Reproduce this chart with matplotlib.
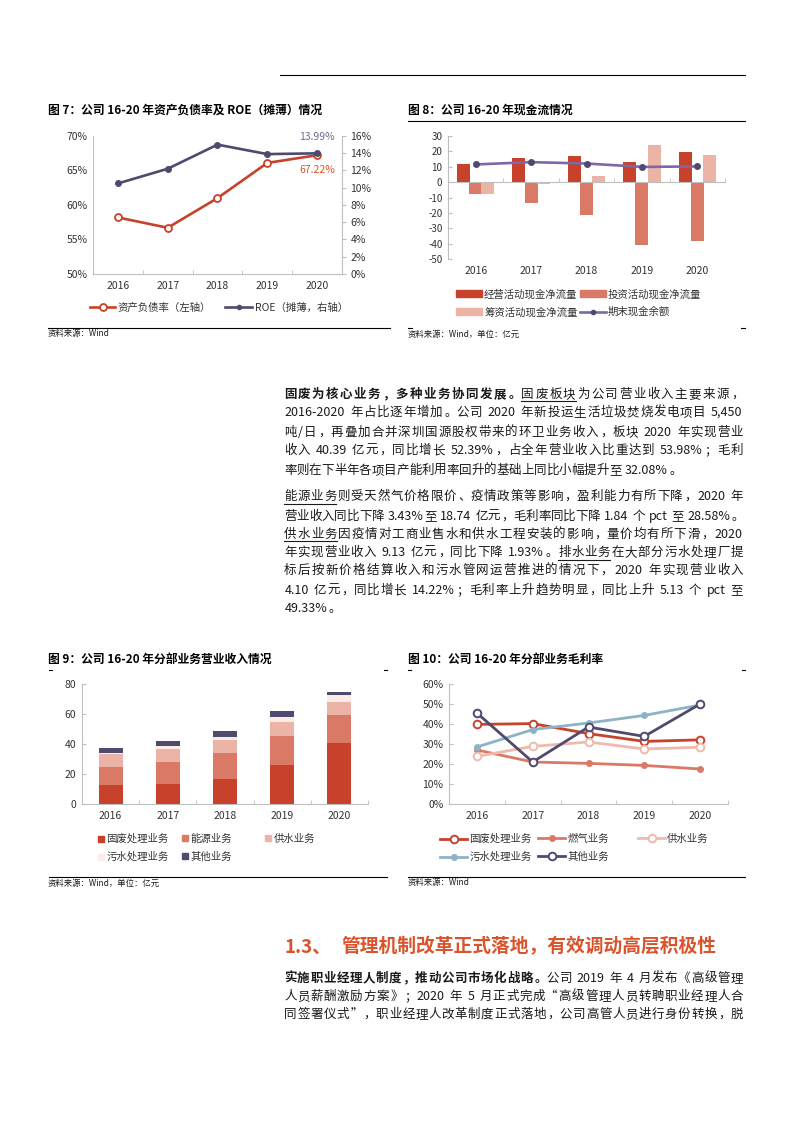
import re
import matplotlib
matplotlib.use('Agg')
import matplotlib.pyplot as plt
from matplotlib.lines import Line2D
from matplotlib.patches import Patch
import numpy as np

plt.rcParams['font.family'] = ['Noto Sans CJK SC', 'DejaVu Sans']
plt.rcParams['axes.unicode_minus'] = False

W, H = 793, 1122
years = ['2016', '2017', '2018', '2019', '2020']

# 图7 资产负债率(左轴, %) / ROE 摊薄(右轴, %)
debt_ratio = [58.2, 56.7, 61.0, 66.1, 67.22]
roe = [10.5, 12.2, 15.0, 13.9, 13.99]

# 图8 现金流 (亿元)
cf_oper = [11.9, 15.4, 16.9, 13.4, 19.7]
cf_inv = [-7.6, -13.8, -21.4, -40.6, -38.0]
cf_fin = [-7.8, -1.5, 3.7, 24.2, 17.9]
cash_end = [11.5, 13.0, 12.1, 9.9, 10.2]

# 图9 分部业务营业收入 (亿元)
rev_solid = [12.4, 13.3, 16.7, 26.0, 40.39]
rev_energy = [12.0, 14.5, 17.5, 19.6, 18.74]
rev_water = [8.7, 8.6, 8.7, 9.1, 9.13]
rev_sewage = [1.1, 2.0, 2.0, 3.3, 4.10]
rev_other = [3.1, 3.8, 4.0, 4.2, 2.5]

# 图10 分部业务毛利率 (%)
gm_solid = [39.8, 40.2, 35.2, 31.3, 32.08]
gm_gas = [27.0, 21.0, 20.3, 19.3, 17.5]
gm_water = [23.8, 28.8, 31.0, 27.5, 28.4]
gm_sewage = [28.5, 37.2, 40.5, 44.3, 49.5]
gm_other = [45.5, 21.0, 38.5, 33.8, 50.0]

RED = '#C8412A'
SALMON = '#DA7A66'
PINK = '#EBB4A7'
PALE = '#FBECE8'
NAVY = '#4F4A6E'
PURPLE = '#7F67A6'
BLUE = '#8DB3C7'
LPINK = '#F0B9AE'
GRID = '#BFBFBF'
TXT = '#333333'
BODY = '#1A1A1A'
HEAD = '#D9542C'

fig = plt.figure(figsize=(W / 100, H / 100), dpi=100)
renderer = fig.canvas.get_renderer()


def fx(x):
    return x / W


def fy(y):
    return 1 - y / H


def box(l, t, r, b):
    return [l / W, 1 - b / H, (r - l) / W, (b - t) / H]


def hline(x0, x1, y, lw=0.8, color='black'):
    fig.add_artist(Line2D([fx(x0), fx(x1)], [fy(y), fy(y)], color=color, lw=lw))


def style(ax, ysize=7.5):
    for s in ['top', 'right']:
        ax.spines[s].set_visible(False)
    ax.spines['left'].set_color(GRID)
    ax.spines['bottom'].set_color(GRID)
    ax.set_xlim(-0.5, 4.5)
    ax.set_xticks(range(5))
    ax.set_xticklabels(years)
    ax.set_xticks(np.arange(-0.5, 5), minor=True)
    ax.tick_params(axis='x', which='major', length=0, labelsize=7.5, labelcolor=TXT, pad=5)
    ax.tick_params(axis='x', which='minor', length=3, color=GRID, direction='in')
    ax.tick_params(axis='y', length=3, color=GRID, direction='in', labelsize=ysize, labelcolor=TXT, pad=4)
    ax.set_facecolor('none')


def legend_item(handle, label, x, y, hl=2.5, pad=0.25):
    fig.legend(handles=[handle], labels=[label], loc='center left',
               bbox_to_anchor=(fx(x), fy(y)), frameon=False, fontsize=7.5,
               handlelength=hl, handletextpad=pad, borderpad=0, borderaxespad=0,
               labelcolor=TXT)


def title(x, y, s):
    fig.text(fx(x), fy(y), s, fontsize=8.5, weight='bold', va='center', ha='left', color='black')


def source(x, y, s):
    fig.text(fx(x), fy(y), s, fontsize=6, va='center', ha='left', color=BODY)


# ---------------- header line ----------------
hline(280, 745, 75)

# ---------------- 图7 ----------------
title(48, 110, '图 7：公司 16-20 年资产负债率及 ROE（摊薄）情况')
ax7 = fig.add_axes(box(93, 136, 342, 274))
style(ax7)
ax7.tick_params(axis='y', length=0)
ax7.set_ylim(50, 70)
ax7.set_yticks(range(50, 71, 5))
ax7.set_yticklabels([f'{v}%' for v in range(50, 71, 5)])
ax7.plot(range(5), debt_ratio, color=RED, lw=1.9, marker='o', ms=5,
         mfc='white', mec=RED, mew=1.3, zorder=3)
ax7b = ax7.twinx()
ax7b.set_xlim(-0.5, 4.5)
for s in ['top', 'left', 'bottom']:
    ax7b.spines[s].set_visible(False)
ax7b.spines['right'].set_color(GRID)
ax7b.set_ylim(0, 16)
ax7b.set_yticks(range(0, 17, 2))
ax7b.set_yticklabels([f'{v}%' for v in range(0, 17, 2)])
ax7b.tick_params(axis='y', length=3, color=GRID, direction='out', labelsize=7.5, labelcolor=TXT, pad=3)
ax7b.plot(range(5), roe, color=NAVY, lw=1.9, marker='o', ms=4, mfc=NAVY, mec=NAVY, zorder=2)
ax7b.annotate(f'{roe[-1]:.2f}%', (4, roe[-1]), xytext=(13, 11.5), textcoords='offset points',
              ha='right', va='center', fontsize=7.5, color='#6E6892')
ax7b.annotate(f'{debt_ratio[-1]:.2f}%', (4, roe[-1]), xytext=(13, -12), textcoords='offset points',
              ha='right', va='center', fontsize=7.5, color=HEAD)
legend_item(Line2D([], [], color=RED, lw=1.9, marker='o', ms=5, mfc='white', mec=RED, mew=1.3),
            '资产负债率（左轴）', 90, 308, hl=2.4)
legend_item(Line2D([], [], color=NAVY, lw=1.9, marker='o', ms=3, mfc=NAVY, mec=NAVY),
            'ROE（摊薄，右轴）', 225, 308, hl=2.6)
hline(48, 390, 328)
source(48, 334, '资料来源：Wind')

# ---------------- 图8 ----------------
title(408, 110, '图 8：公司 16-20 年现金流情况')
hline(408, 745, 121)
ax8 = fig.add_axes(box(448, 136, 725, 259))
style(ax8, ysize=7)
ax8.spines['bottom'].set_position(('data', 0))
ax8.tick_params(axis='x', which='major', labelbottom=False)
sec = ax8.secondary_xaxis('bottom')
sec.set_xticks(range(5))
sec.set_xticklabels(years)
sec.spines['bottom'].set_visible(False)
sec.tick_params(axis='x', length=0, labelsize=7.5, labelcolor=TXT, pad=5)
ax8.set_ylim(-50, 30)
ax8.set_yticks(range(-50, 31, 10))
ax8.set_yticklabels([str(v) for v in range(-50, 31, 10)])
xs = np.arange(5)
bw = 0.235
ax8.bar(xs - 0.22, cf_oper, bw, color=RED, zorder=2)
ax8.bar(xs, cf_inv, bw, color=SALMON, zorder=2)
ax8.bar(xs + 0.22, cf_fin, bw, color=PINK, zorder=2)
ax8.plot(xs, cash_end, color=PURPLE, lw=1.9, marker='o', ms=4, mfc=NAVY, mec=NAVY, zorder=4)
legend_item(Patch(color=RED), '经营活动现金净流量', 456, 294, hl=2.5, pad=0.2)
legend_item(Patch(color=SALMON), '投资活动现金净流量', 580, 294, hl=2.5, pad=0.2)
legend_item(Patch(color=PINK), '筹资活动现金净流量', 456, 312, hl=2.5, pad=0.2)
legend_item(Line2D([], [], color=PURPLE, lw=1.9, marker='o', ms=3, mfc=NAVY, mec=NAVY),
            '期末现金余额', 580, 312, hl=2.5, pad=0.2)
hline(408, 412, 328)
hline(741, 745, 328)
source(408, 334, '资料来源：Wind，单位：亿元')

# ---------------- 图9 ----------------
title(48, 659, '图 9：公司 16-20 年分部业务营业收入情况')
hline(49, 52, 670)
hline(384, 387, 670)
ax9 = fig.add_axes(box(82, 684, 368, 804))
style(ax9)
ax9.set_ylim(0, 80)
ax9.set_yticks(range(0, 81, 20))
series9 = [(rev_solid, RED, '固废处理业务'), (rev_energy, SALMON, '能源业务'),
           (rev_water, PINK, '供水业务'), (rev_sewage, PALE, '污水处理业务'),
           (rev_other, NAVY, '其他业务')]
bottom = np.zeros(5)
for vals, col, lab in series9:
    ax9.bar(xs, vals, 0.42, bottom=bottom, color=col, zorder=2)
    bottom += np.array(vals)
pos9 = [(98, 839), (182, 839), (265, 839), (98, 857), (182, 857)]
for (vals, col, lab), (lx, ly) in zip(series9, pos9):
    legend_item(Line2D([], [], ls='none', marker='s', ms=4.5, mfc=col, mec=col), lab, lx, ly, hl=0.6, pad=0.2)
hline(49, 387, 877)
source(48, 883, '资料来源：Wind，单位：亿元')

# ---------------- 图10 ----------------
title(408, 659, '图 10：公司 16-20 年分部业务毛利率')
hline(408, 411, 670)
hline(742, 745, 670)
ax10 = fig.add_axes(box(449, 684, 728, 804))
style(ax10)
ax10.set_ylim(0, 60)
ax10.set_yticks(range(0, 61, 10))
ax10.set_yticklabels([f'{v}%' for v in range(0, 61, 10)])
series10 = [(gm_solid, RED, '固废处理业务', True), (gm_gas, SALMON, '燃气业务', False),
            (gm_water, LPINK, '供水业务', True), (gm_sewage, BLUE, '污水处理业务', False),
            (gm_other, NAVY, '其他业务', True)]
pos10 = [(440, 839), (538, 839), (638, 839), (440, 857), (538, 857)]
for (vals, col, lab, hollow), (lx, ly) in zip(series10, pos10):
    if hollow:
        kw = dict(marker='o', ms=5.5, mfc='white', mec=col, mew=1.4)
    else:
        kw = dict(marker='o', ms=4, mfc=col, mec=col)
    ax10.plot(xs, vals, color=col, lw=2, zorder=3, clip_on=False, **kw)
    legend_item(Line2D([], [], color=col, lw=2, **kw), lab, lx, ly, hl=2.6, pad=0.2)
hline(408, 745, 877)
source(408, 883, '资料来源：Wind')

# ---------------- body text ----------------
PUNCT_L = set('，。；：、）》”')
PUNCT_R = set('（《“')
LATIN = re.compile(r'[A-Za-z0-9.,%/\-]')


def tokens_of(s):
    out = []
    bold = ul = False
    for ch in s:
        if ch == '{':
            bold = True
            continue
        if ch == '}':
            bold = False
            continue
        if ch == '[':
            ul = True
            continue
        if ch == ']':
            ul = False
            continue
        if LATIN.match(ch):
            if out and out[-1][2] == 'latin' and out[-1][1] == bold and out[-1][3] == ul:
                out[-1][0] += ch
            else:
                out.append([ch, bold, 'latin', ul])
        elif ch == ' ':
            out.append([ch, bold, 'space', ul])
        else:
            out.append([ch, bold, 'wide', ul])
    return out


def text_line(s, y, x0=284, x1=743, justify=True, size=9, color=BODY):
    em = size * 100 / 72
    items = []
    for txt, bold, kind, ul in tokens_of(s):
        t = None
        if kind == 'space':
            w = 0.25 * em
        else:
            t = fig.text(0, 0, txt, fontsize=size, weight='bold' if bold else 'normal',
                         color=color, va='baseline', ha='left')
            if kind == 'wide':
                w = em
            else:
                w = t.get_window_extent(renderer).width + 0.08 * em
        items.append((t, txt, kind, w, ul))
    total = sum(i[3] for i in items)
    gap = (x1 - x0 - total) / (len(items) - 1) if justify and len(items) > 1 else 0
    base = round(y + 0.36 * em)
    x = x0
    runs = []
    prev_ul = False
    for t, txt, kind, w, ul in items:
        if t is not None:
            if kind == 'wide':
                if txt in PUNCT_L:
                    px = x + 0.08 * em
                elif txt in PUNCT_R:
                    t.set_ha('right')
                    px = x + w - 0.08 * em
                else:
                    t.set_ha('center')
                    px = x + w / 2
            else:
                px = x + 0.04 * em
            t.set_position((fx(px), fy(base)))
        if ul:
            if prev_ul:
                runs[-1][1] = x + w
            else:
                runs.append([x, x + w])
        prev_ul = ul
        x += w + gap
    for a, b in runs:
        hline(a, b, y + 8, lw=0.8, color=BODY)


para1 = [
    '{固废为核心业务，多种业务协同发展。}[固废板块]为公司营业收入主要来源，',
    '2016-2020 年占比逐年增加。公司 2020 年新投运生活垃圾焚烧发电项目 5,450',
    '吨/日，再叠加合并深圳国源股权带来的环卫业务收入，板块 2020 年实现营业',
    '收入 40.39 亿元，同比增长 52.39%，占全年营业收入比重达到 53.98%；毛利',
    '率则在下半年各项目产能利用率回升的基础上同比小幅提升至 32.08%。',
]
para1_y = [393, 412, 431, 450, 469]

para2 = [
    '[能源业务]则受天然气价格限价、疫情政策等影响，盈利能力有所下降，2020 年',
    '营业收入同比下降 3.43%至 18.74 亿元，毛利率同比下降 1.84 个 pct 至 28.58%。',
    '[供水业务]因疫情对工商业售水和供水工程安装的影响，量价均有所下滑，2020',
    '年实现营业收入 9.13 亿元，同比下降 1.93%。[排水业务]在大部分污水处理厂提',
    '标后按新价格结算收入和污水管网运营推进的情况下，2020 年实现营业收入',
    '4.10 亿元，同比增长 14.22%；毛利率上升趋势明显，同比上升 5.13 个 pct 至',
    '49.33%。',
]
para2_y = [496, 515, 533, 552, 570, 589, 607]

para3 = [
    '{实施职业经理人制度，推动公司市场化战略。}公司 2019 年 4 月发布《高级管理',
    '人员薪酬激励方案》；2020 年 5 月正式完成“高级管理人员转聘职业经理人合',
    '同签署仪式”，职业经理人改革制度正式落地，公司高管人员进行身份转换，脱',
]
para3_y = [977, 996, 1014]

for lines, ys in [(para1, para1_y), (para2, para2_y), (para3, para3_y)]:
    for i, (s, y) in enumerate(zip(lines, ys)):
        text_line(s, y, justify=(i < len(lines) - 1) or lines is para3)

fig.text(fx(284), fy(947), '1.3、', fontsize=13.5, weight='bold', color=HEAD, va='center', ha='left')
fig.text(fx(341), fy(947), '管理机制改革正式落地，有效调动高层积极性', fontsize=13.5, weight='bold',
         color=HEAD, va='center', ha='left')

fig.savefig('out.png', dpi=100)
